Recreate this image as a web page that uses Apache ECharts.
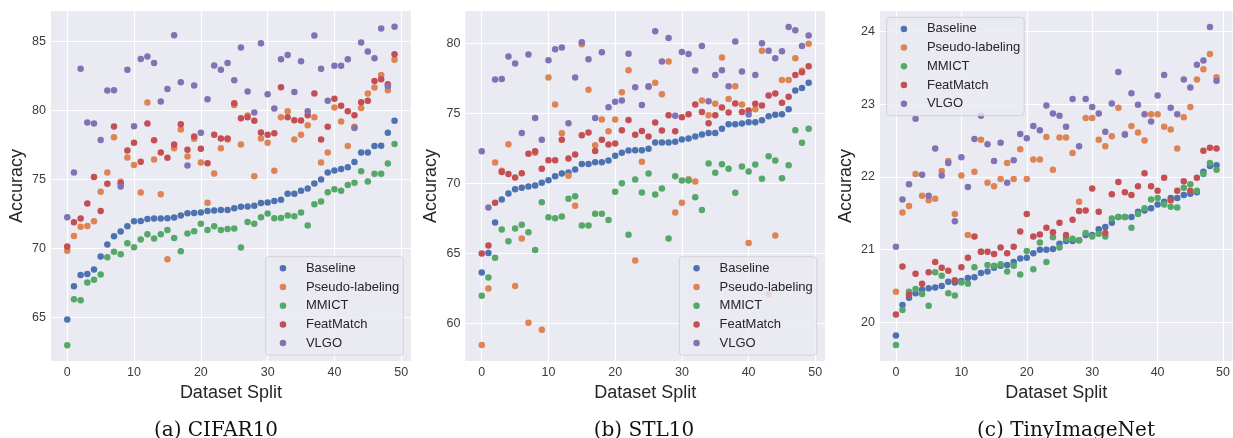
<!DOCTYPE html>
<html>
<head>
<meta charset="utf-8">
<script src="https://cdn.jsdelivr.net/npm/echarts@6/dist/echarts.min.js"></script>
<style>
html,body{margin:0;padding:0;background:#fff;}
#chart{width:1233px;height:438px;}
</style>
</head>
<body>
<div id="chart"></div>
<script>
// ---------- data ----------
const splits = [0,1,2,3,4,5,6,7,8,9,10,11,12,13,14,15,16,17,18,19,20,21,22,23,24,25,26,27,28,29,30,31,32,33,34,35,36,37,38,39,40,41,42,43,44,45,46,47,48,49];
const methods = ['Baseline','Pseudo-labeling','MMICT','FeatMatch','VLGO'];
const methodColors = ['#4C72B0','#DD8452','#55A868','#C44E52','#8172B3'];
const xTicks = [0,10,20,30,40,50];
const yTicksCifar = [65,70,75,80,85];
const yTicksStl = [60,65,70,75,80];
const yTicksTiny = [20,21,22,23,24];
const captions = ['(a) CIFAR10','(b) STL10','(c) TinyImageNet'];

// CIFAR10
const cifarBaseline = [64.86,67.27,68.09,68.16,68.48,69.42,70.29,70.89,71.23,71.62,71.98,72.0,72.13,72.17,72.17,72.2,72.25,72.39,72.56,72.58,72.61,72.71,72.75,72.8,72.8,72.92,73.02,73.04,73.09,73.29,73.33,73.45,73.53,73.96,73.96,74.18,74.35,74.71,75.0,75.51,75.65,75.77,75.89,76.26,76.96,76.96,77.42,77.44,78.38,79.25];
const cifarPseudo = [69.83,70.9,71.57,71.64,71.98,74.11,75.51,78.07,74.83,76.59,76.06,74.06,80.58,76.45,73.94,69.23,77.27,78.62,76.67,77.95,76.23,73.31,75.43,77.27,77.9,80.4,77.54,79.64,75.24,77.97,77.66,75.63,79.52,79.95,77.9,78.24,78.94,79.52,76.23,76.96,80.22,79.2,77.42,78.82,80.19,81.23,81.67,82.58,81.47,83.67];
const cifarMmict = [63.0,66.33,66.26,67.54,67.73,68.12,69.37,69.76,69.59,70.39,70.1,70.65,71.04,70.72,71.04,71.35,70.77,69.81,71.09,71.26,71.79,71.35,71.62,71.35,71.42,71.45,70.07,71.93,71.79,72.27,72.54,72.2,72.22,72.39,72.34,72.61,71.67,73.21,73.41,74.08,74.3,74.18,74.61,74.76,75.6,74.86,75.41,75.41,76.16,77.58];
const cifarFeat = [70.14,71.91,72.17,73.26,75.19,72.71,74.69,78.84,74.73,77.1,77.66,76.28,79.06,77.85,76.96,76.57,77.54,79.01,77.15,78.12,77.22,76.18,78.24,77.97,77.97,80.53,79.44,79.52,79.25,78.41,78.24,78.36,81.69,79.52,79.3,79.28,79.66,81.23,77.9,78.82,80.85,80.34,79.95,79.66,80.6,80.7,82.13,82.27,81.91,84.08];
const cifarVlgo = [72.27,75.51,83.02,79.13,79.06,77.87,81.45,81.47,74.49,82.95,78.86,83.74,83.91,83.45,80.65,81.55,85.46,82.05,76.01,81.81,78.38,80.82,83.26,82.95,83.45,82.2,84.57,81.38,79.86,84.88,81.18,80.14,83.72,84.03,81.35,83.57,79.95,85.43,83.02,80.7,83.24,83.24,83.72,78.74,84.93,84.28,83.79,85.94,81.76,86.06];

// STL10
const stlBaseline = [63.62,65.01,67.2,68.84,69.27,69.58,69.68,69.77,69.85,70.04,70.23,70.51,70.7,70.77,70.99,71.39,71.39,71.51,71.51,71.63,71.97,72.18,72.35,72.37,72.37,72.47,72.92,72.92,72.92,72.97,73.13,73.21,73.35,73.49,73.61,73.61,73.9,74.23,74.23,74.28,74.37,74.37,74.52,74.8,74.9,74.95,75.3,76.64,76.83,77.19];
const stlPseudo = [58.43,62.48,71.49,70.9,72.8,62.65,66.05,60.02,72.18,59.52,77.57,75.64,73.59,70.54,68.39,79.95,76.69,72.73,74.56,73.73,74.56,76.52,78.09,64.48,71.54,76.9,77.19,76.38,78.71,67.91,68.61,70.3,70.13,75.92,74.87,75.69,79.0,76.04,76.95,75.64,65.74,75.3,79.48,62.07,66.27,77.4,77.4,78.95,78.05,79.98];
const stlMmict = [61.95,63.27,64.67,66.7,65.86,66.77,67.03,66.51,65.24,68.65,67.58,67.51,67.63,68.89,69.08,66.98,66.98,67.82,67.82,67.37,69.39,70.01,66.32,70.27,69.34,70.7,69.2,69.63,66.05,70.51,70.2,70.2,69.01,68.1,71.42,70.75,71.37,71.04,69.32,71.2,70.85,71.35,70.32,71.94,71.63,70.37,71.3,73.8,72.9,73.9];
const stlFeat = [64.98,65.55,68.61,70.82,70.66,70.42,70.73,72.11,72.3,71.04,71.66,71.66,73.11,71.78,72.06,73.44,73.64,72.32,73.11,72.78,72.85,73.8,74.54,73.47,73.75,73.35,74.35,73.78,74.87,73.73,74.73,74.95,75.64,75.11,74.3,74.87,75.42,75.07,75.71,75.11,75.21,75.69,75.57,76.28,76.42,75.76,76.19,77.76,77.95,78.38];
const stlVlgo = [72.3,68.27,77.43,77.47,79.07,78.57,73.61,79.21,74.68,73.11,78.81,79.59,79.71,74.3,77.57,80.1,78.88,74.68,79.38,75.45,75.83,75.92,79.28,76.88,75.61,76.95,80.88,78.71,80.4,74.83,79.4,79.26,78.07,79.83,75.88,77.76,78.09,76.95,80.14,78.0,74.92,77.76,80.02,79.48,78.95,79.45,81.19,80.95,79.83,80.57];

// TinyImageNet
const tinyBaseline = [19.82,20.24,20.34,20.4,20.45,20.47,20.48,20.5,20.56,20.55,20.57,20.61,20.62,20.68,20.7,20.75,20.78,20.79,20.83,20.88,20.89,20.95,21.0,21.0,21.01,21.08,21.12,21.12,21.13,21.2,21.2,21.28,21.31,21.37,21.45,21.45,21.45,21.52,21.54,21.57,21.62,21.66,21.71,21.71,21.75,21.77,21.79,22.07,22.15,22.16];
const tinyPseudo = [20.42,21.51,21.6,22.04,21.74,21.68,21.7,22.08,22.22,21.49,22.02,21.2,22.07,22.51,21.92,21.87,21.97,22.19,21.97,22.38,21.97,22.24,22.24,22.55,22.1,22.54,22.54,22.33,21.66,22.81,22.81,22.51,22.42,22.56,22.95,22.59,22.7,22.61,22.5,22.86,22.86,22.69,22.65,22.39,22.82,22.96,23.34,23.48,23.69,23.37];
const tinyMmict = [19.69,20.17,20.42,20.46,20.39,20.23,20.69,20.64,20.4,20.37,20.55,20.53,20.76,20.97,20.79,20.78,20.8,20.7,20.78,20.66,20.98,20.73,21.1,20.83,21.17,21.03,21.15,21.15,21.13,21.23,21.18,21.22,21.18,21.43,21.45,21.45,21.3,21.49,21.57,21.69,21.71,21.62,21.59,21.58,21.85,21.9,21.81,22.04,22.19,22.1];
const tinyFeat = [20.11,20.77,20.38,20.67,20.53,20.69,20.83,20.75,20.71,20.58,20.76,20.89,21.18,20.97,20.97,20.94,21.03,20.95,21.04,21.25,21.49,21.18,21.21,21.3,21.24,21.37,21.2,21.41,21.53,21.54,21.84,21.52,21.23,21.76,21.93,21.79,21.75,21.87,22.05,21.87,21.81,21.99,21.68,21.81,21.94,21.81,21.99,22.36,22.4,22.39];
const tinyVlgo = [21.04,21.69,21.9,22.8,22.03,21.74,22.39,22.02,22.19,21.39,22.27,21.86,22.52,22.84,22.45,22.22,22.47,21.92,22.23,22.59,22.53,22.7,22.64,22.98,22.87,22.84,22.69,23.07,22.42,23.07,22.96,22.87,22.62,23.01,23.44,22.58,23.15,22.99,22.86,22.76,23.12,23.4,22.95,22.86,23.34,23.23,23.54,23.6,24.06,23.32];

// ---------- layout ----------
const panels = [
  {series:[cifarBaseline,cifarPseudo,cifarMmict,cifarFeat,cifarVlgo], yTicks:yTicksCifar, ymin:61.85, ymax:87.21,
   grid:{left:50.9, top:11, width:360, height:350}, legend:{left:265.7, top:256.7}, capX:211},
  {series:[stlBaseline,stlPseudo,stlMmict,stlFeat,stlVlgo], yTicks:yTicksStl, ymin:57.29, ymax:82.33,
   grid:{left:465.4, top:11, width:359.6, height:350}, legend:{left:679.3, top:256.7}, capX:639},
  {series:[tinyBaseline,tinyPseudo,tinyMmict,tinyFeat,tinyVlgo], yTicks:yTicksTiny, ymin:19.47, ymax:24.28,
   grid:{left:879.9, top:11, width:361, height:350}, legend:{left:886.7, top:17.3}, capX:1061}
];

const FONT = 'Liberation Sans, Arial, sans-serif';
const grids = [], xAxes = [], yAxes = [], series = [], legends = [], titles = [];

panels.forEach((p, pi) => {
  grids.push(Object.assign({show:true, backgroundColor:'#EAEAF2', borderWidth:0, containLabel:false}, p.grid));
  xAxes.push({
    gridIndex: pi, type:'value', min:-2.45, max:51.45,
    axisLine:{show:false}, axisTick:{show:false, customValues:xTicks},
    axisLabel:{customValues:xTicks, fontSize:12.5, color:'#3b3b3b', margin:5, fontFamily:FONT},
    splitLine:{show:true, lineStyle:{color:'#ffffff', width:1.2}},
    name:'Dataset Split', nameLocation:'middle', nameGap:14,
    nameTextStyle:{fontSize:18, color:'#262626', fontFamily:FONT}
  });
  yAxes.push({
    gridIndex: pi, type:'value', min:p.ymin, max:p.ymax,
    axisLine:{show:false}, axisTick:{show:false, customValues:p.yTicks},
    axisLabel:{customValues:p.yTicks, fontSize:12.5, color:'#3b3b3b', margin:5, fontFamily:FONT},
    splitLine:{show:true, lineStyle:{color:'#ffffff', width:1.2}},
    name:'Accuracy', nameLocation:'middle', nameGap:25, nameRotate:90,
    nameTextStyle:{fontSize:18, color:'#262626', fontFamily:FONT}
  });
  p.series.forEach((vals, mi) => {
    series.push({
      type:'scatter', name:methods[mi], xAxisIndex:pi, yAxisIndex:pi,
      data: vals.map((v, i) => [splits[i], v]),
      symbol:'circle', symbolSize:6.5,
      itemStyle:{color:methodColors[mi], opacity:1},
      emphasis:{disabled:true}, silent:true
    });
  });
  legends.push({
    data: methods, orient:'vertical', left:p.legend.left, top:p.legend.top,
    icon:'circle', itemWidth:36, itemHeight:6.5, itemGap:4.7,
    padding:[4.6, 4, 5, 14],
    backgroundColor:'rgba(234,234,242,0.8)', borderColor:'rgba(204,204,204,0.8)', borderWidth:1, borderRadius:3,
    textStyle:{fontSize:13, lineHeight:14, color:'#262626', fontFamily:FONT},
    selectedMode:false
  });
  titles.push({
    text: captions[pi], left:p.capX, top:416, textAlign:'center',
    textStyle:{fontSize:20, fontWeight:'normal', color:'#111', fontFamily:'DejaVu Serif, serif'}
  });
});

const chart = echarts.init(document.getElementById('chart'), null, {renderer:'canvas'});
chart.setOption({
  animation:false,
  backgroundColor:'#ffffff',
  title: titles,
  grid: grids,
  xAxis: xAxes,
  yAxis: yAxes,
  legend: legends,
  series: series
});
</script>
</body>
</html>
